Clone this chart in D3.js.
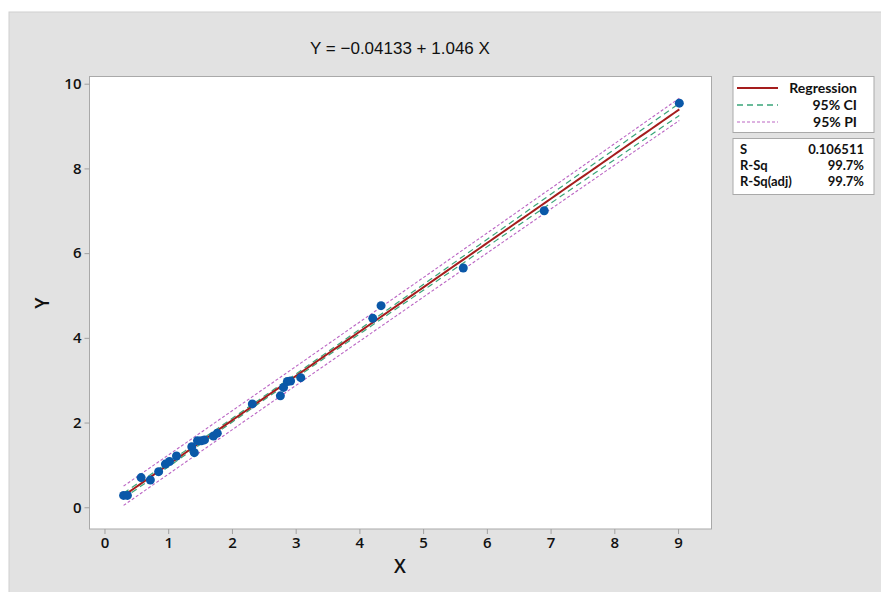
<!DOCTYPE html>
<html>
<head>
<meta charset="utf-8">
<script src="https://cdn.jsdelivr.net/npm/d3@7"></script>
<style>
  body { margin: 0; background: #fff; }
  svg { display: block; }
</style>
</head>
<body>
<svg id="chart" width="881" height="592"></svg>
<script>
const xVals = [0.30, 0.36, 0.575, 0.72, 0.85, 0.956, 1.02, 1.13, 1.37, 1.41, 1.46, 1.52, 1.57,
               1.71, 1.77, 2.32, 2.76, 2.81, 2.87, 2.92, 3.08, 4.21, 4.34, 5.63, 6.90, 9.02];
const yVals = [0.28, 0.28, 0.70, 0.645, 0.84, 1.02, 1.08, 1.21, 1.43, 1.29, 1.57, 1.57, 1.59,
               1.68, 1.75, 2.44, 2.63, 2.83, 2.97, 2.98, 3.06, 4.46, 4.76, 5.65, 7.00, 9.54];

// fit summary (from the chart)
const b0 = -0.04133, b1 = 1.046;
const sVal = 0.106511;
const statLabels = ["S", "R-Sq", "R-Sq(adj)"];
const statValues = ["0.106511", "99.7%", "99.7%"];
const legendLabels = ["Regression", "95% CI", "95% PI"];
const xTicks = [0, 1, 2, 3, 4, 5, 6, 7, 8, 9];
const yTicks = [0, 2, 4, 6, 8, 10];
const tCrit = 2.064; // t(0.975, n-2)

const svg = d3.select("#chart");
const uiFont = "'Open Sans', 'Noto Sans', sans-serif";
const boxFont = "Lato, 'Open Sans', sans-serif";

// gray panel
svg.append("rect").attr("x", 9).attr("y", 12).attr("width", 873).attr("height", 581)
  .attr("fill", "#e2e2e2").attr("stroke", "#d0d0d0");

const plot = { left: 89.5, top: 76.5, right: 711.5, bottom: 529 };

const x = d3.scaleLinear().domain([-0.235, 9.525]).range([plot.left, plot.right]);
const y = d3.scaleLinear().domain([-0.513, 10.17]).range([plot.bottom, plot.top]);

svg.append("rect")
  .attr("x", plot.left).attr("y", plot.top)
  .attr("width", plot.right - plot.left).attr("height", plot.bottom - plot.top)
  .attr("fill", "#fff").attr("stroke", "#a9a9a9");

// axes
const xAxis = svg.append("g").attr("transform", `translate(0,${plot.bottom})`)
  .call(d3.axisBottom(x).tickValues(xTicks).tickSize(5).tickPadding(3).tickFormat(d3.format("d")));
const yAxis = svg.append("g").attr("transform", `translate(${plot.left},0)`)
  .call(d3.axisLeft(y).tickValues(yTicks).tickSize(5).tickPadding(3).tickFormat(d3.format("d")));
[xAxis, yAxis].forEach(a => {
  a.select(".domain").remove();
  a.selectAll(".tick line").attr("stroke", "#a0a0a0");
  a.selectAll(".tick text").attr("fill", "#111").style("font-family", uiFont)
    .style("font-size", "15px").style("font-weight", 600);
});

// axis titles
svg.append("text").attr("x", 400).attr("y", 573).attr("text-anchor", "middle")
  .style("font-family", uiFont).style("font-size", "19px").style("font-weight", 600)
  .attr("fill", "#111").text("X");
svg.append("text").attr("transform", "translate(49,303) rotate(-90)").attr("text-anchor", "middle")
  .style("font-family", uiFont).style("font-size", "19px").style("font-weight", 600)
  .attr("fill", "#111").text("Y");

// title
svg.append("text").attr("x", 400).attr("y", 54).attr("text-anchor", "middle")
  .style("font-family", "'Liberation Sans', Arial, sans-serif").style("font-size", "17px")
  .attr("fill", "#111").text("Y = \u22120.04133 + 1.046 X");

// fit and bands
const n = xVals.length;
const xbar = d3.mean(xVals);
const sxx = d3.sum(xVals, v => (v - xbar) * (v - xbar));
const xmin = d3.min(xVals), xmax = d3.max(xVals);
const grid = d3.range(0, 101).map(i => xmin + (xmax - xmin) * i / 100);
const fit = v => b0 + b1 * v;
const seFit = v => sVal * Math.sqrt(1 / n + (v - xbar) * (v - xbar) / sxx);
const sePred = v => Math.sqrt(sVal * sVal + seFit(v) * seFit(v));

const line = d3.line().x(d => x(d[0])).y(d => y(d[1]));
svg.append("clipPath").attr("id", "pclip").append("rect")
  .attr("x", plot.left).attr("y", plot.top)
  .attr("width", plot.right - plot.left).attr("height", plot.bottom - plot.top);
const g = svg.append("g").attr("clip-path", "url(#pclip)");

[-1, 1].forEach(sg => {
  g.append("path").datum(grid.map(v => [v, fit(v) + sg * tCrit * sePred(v)]))
    .attr("d", line).attr("fill", "none").attr("stroke", "#bb66c4")
    .attr("stroke-width", 1.1).attr("stroke-dasharray", "3,2");
  g.append("path").datum(grid.map(v => [v, fit(v) + sg * tCrit * seFit(v)]))
    .attr("d", line).attr("fill", "none").attr("stroke", "#3aa57a")
    .attr("stroke-width", 1.2).attr("stroke-dasharray", "6,4");
});
g.append("path").datum(grid.map(v => [v, fit(v)]))
  .attr("d", line).attr("fill", "none").attr("stroke", "#a51d1d").attr("stroke-width", 2);

// points
g.selectAll("circle.pt").data(xVals.map((v, i) => [v, yVals[i]])).join("circle")
  .attr("class", "pt")
  .attr("cx", d => x(d[0])).attr("cy", d => y(d[1])).attr("r", 4.5)
  .attr("fill", "#0a58a8");

// legend box
const lg = svg.append("g");
lg.append("rect").attr("x", 733).attr("y", 76.5).attr("width", 141).attr("height", 56)
  .attr("fill", "#fff").attr("stroke", "#a9a9a9");
const legStyles = [
  { color: "#a51d1d", dash: null, w: 2 },
  { color: "#3aa57a", dash: "6,4", w: 1.3 },
  { color: "#bb66c4", dash: "3,2", w: 1.1 }
];
legendLabels.forEach((lab, i) => {
  const yy = 88 + i * 17;
  lg.append("line").attr("x1", 737).attr("x2", 778).attr("y1", yy).attr("y2", yy)
    .attr("stroke", legStyles[i].color).attr("stroke-width", legStyles[i].w)
    .attr("stroke-dasharray", legStyles[i].dash);
  lg.append("text").attr("x", 857).attr("y", yy + 4.5).attr("text-anchor", "end")
    .style("font-family", boxFont).style("font-size", "14px").style("font-weight", 700)
    .attr("fill", "#111").text(lab);
});

// stats box
lg.append("rect").attr("x", 733).attr("y", 138.5).attr("width", 141).attr("height", 56)
  .attr("fill", "#fff").attr("stroke", "#a9a9a9");
statLabels.forEach((lab, i) => {
  const yy = 154 + i * 16;
  lg.append("text").attr("x", 740).attr("y", yy)
    .style("font-family", boxFont).style("font-size", "13px").style("font-weight", 700)
    .attr("fill", "#111").text(lab);
  lg.append("text").attr("x", 864).attr("y", yy).attr("text-anchor", "end")
    .style("font-family", boxFont).style("font-size", "13px").style("font-weight", 700)
    .attr("fill", "#111").text(statValues[i]);
});
</script>
</body>
</html>
